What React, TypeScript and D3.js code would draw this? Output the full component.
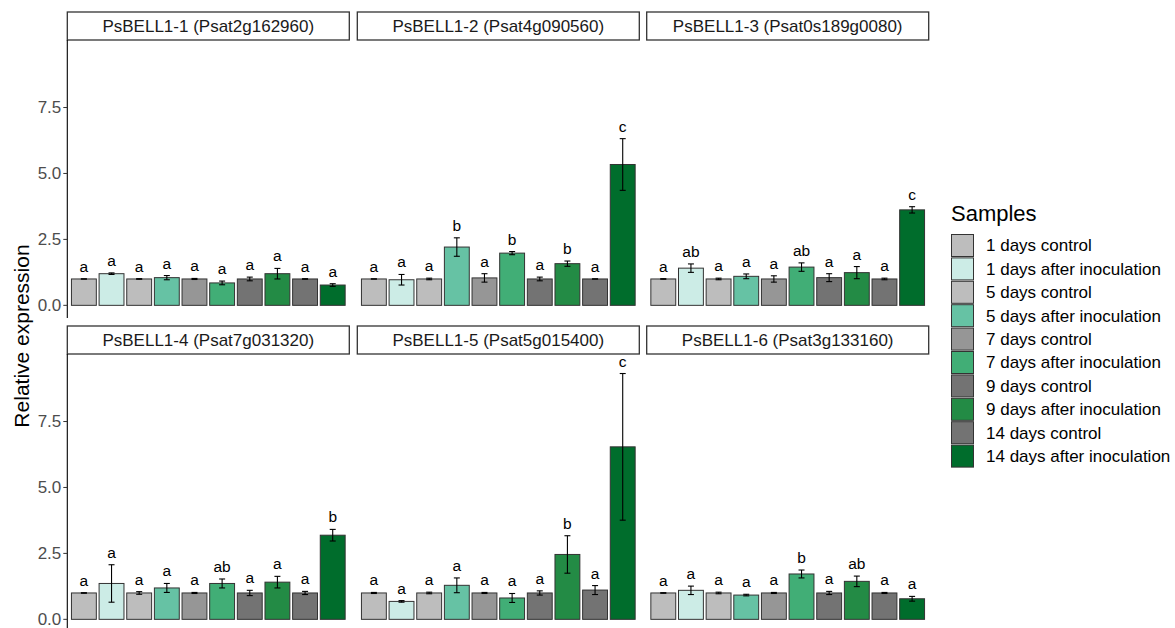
import React from 'react'
import * as d3 from 'd3'

const samples = [
  '1 days control', '1 days after inoculation',
  '5 days control', '5 days after inoculation',
  '7 days control', '7 days after inoculation',
  '9 days control', '9 days after inoculation',
  '14 days control', '14 days after inoculation'
]
const fills = ['#BDBDBD', '#CCECE6', '#BDBDBD', '#66C2A4', '#969696', '#41AE76', '#737373', '#238B45', '#737373', '#006D2C']

const genes = [
  'PsBELL1-1 (Psat2g162960)', 'PsBELL1-2 (Psat4g090560)', 'PsBELL1-3 (Psat0s189g0080)',
  'PsBELL1-4 (Psat7g031320)', 'PsBELL1-5 (Psat5g015400)', 'PsBELL1-6 (Psat3g133160)'
]

const means = [
  [1.0, 1.2, 1.0, 1.05, 1.0, 0.85, 1.0, 1.2, 1.0, 0.77],
  [1.0, 0.97, 1.0, 2.21, 1.04, 1.98, 1.0, 1.58, 1.0, 5.34],
  [1.0, 1.41, 1.0, 1.1, 1.0, 1.45, 1.05, 1.24, 1.0, 3.62],
  [1.0, 1.36, 1.0, 1.19, 1.0, 1.36, 1.0, 1.41, 1.0, 3.19],
  [1.0, 0.68, 1.0, 1.29, 1.0, 0.81, 1.0, 2.46, 1.11, 6.54],
  [1.0, 1.1, 1.0, 0.92, 1.0, 1.72, 1.0, 1.44, 1.0, 0.78]
]
const errs = [
  [0.0, 0.03, 0.01, 0.08, 0.02, 0.07, 0.07, 0.2, 0.01, 0.05],
  [0.0, 0.2, 0.03, 0.35, 0.16, 0.06, 0.07, 0.1, 0.0, 0.98],
  [0.01, 0.16, 0.03, 0.09, 0.12, 0.16, 0.15, 0.23, 0.03, 0.12],
  [0.01, 0.71, 0.05, 0.17, 0.02, 0.17, 0.1, 0.22, 0.06, 0.22],
  [0.02, 0.03, 0.03, 0.28, 0.02, 0.17, 0.08, 0.71, 0.17, 2.78],
  [0.01, 0.16, 0.03, 0.03, 0.02, 0.15, 0.06, 0.2, 0.02, 0.09]
]
const letters = [
  ['a', 'a', 'a', 'a', 'a', 'a', 'a', 'a', 'a', 'a'],
  ['a', 'a', 'a', 'b', 'a', 'b', 'a', 'b', 'a', 'c'],
  ['a', 'ab', 'a', 'a', 'a', 'ab', 'a', 'a', 'a', 'c'],
  ['a', 'a', 'a', 'a', 'a', 'ab', 'a', 'a', 'a', 'b'],
  ['a', 'a', 'a', 'a', 'a', 'a', 'a', 'b', 'a', 'c'],
  ['a', 'a', 'a', 'a', 'a', 'b', 'a', 'ab', 'a', 'a']
]
const yTicks = [0, 2.5, 5, 7.5]

const font = '"Liberation Sans", Arial, sans-serif'
const panelW = 282
const panelH = 278
const panelX = [67.3, 357.3, 646.7]
const panelY = [40, 354]
const stripH = 28

export default function App() {
  const x = d3.scaleBand<string>().domain(samples).range([0, panelW]).paddingInner(0.1).paddingOuter(0.15)
  const y = d3.scaleLinear().domain([-0.48, 10.06]).range([panelH, 0])
  const bw = x.bandwidth()

  return (
    <svg width={1175} height={628} style={{ position: 'absolute', left: 0, top: 0, background: '#fff' }} fontFamily={font}>
      {genes.map((g, gi) => {
        const px = panelX[gi % 3]
        const py = panelY[Math.floor(gi / 3)]
        return (
          <g key={g} transform={`translate(${px},${py})`}>
            <rect x={0} y={-stripH} width={panelW} height={stripH} fill="#fff" stroke="#333" strokeWidth={1.3} />
            <text x={panelW / 2} y={-stripH / 2} dy="0.35em" textAnchor="middle" fontSize={17} fill="#1A1A1A">{g}</text>
            {means[gi].map((m, i) => {
              const cx = x(samples[i])! + bw / 2
              const up = m + errs[gi][i]
              const lo = m - errs[gi][i]
              return (
                <g key={i}>
                  <rect x={x(samples[i])} y={y(m)} width={bw} height={y(0) - y(m)} fill={fills[i]} stroke="#333" strokeWidth={1} />
                  <line x1={cx} x2={cx} y1={y(lo)} y2={y(up)} stroke="#000" strokeWidth={1.1} />
                  <line x1={cx - 3} x2={cx + 3} y1={y(lo)} y2={y(lo)} stroke="#000" strokeWidth={1.1} />
                  <line x1={cx - 3} x2={cx + 3} y1={y(up)} y2={y(up)} stroke="#000" strokeWidth={1.1} />
                  <text x={cx} y={y(up) - 7} textAnchor="middle" fontSize={15.5} fill="#000">{letters[gi][i]}</text>
                </g>
              )
            })}
            {gi % 3 === 0 && (
              <g>
                <line x1={0} x2={0} y1={0} y2={panelH} stroke="#000" strokeWidth={1.1} />
                {yTicks.map(t => (
                  <g key={t} transform={`translate(0,${y(t)})`}>
                    <line x1={-4} x2={0} stroke="#333" strokeWidth={1} />
                    <text x={-6} dy="0.35em" textAnchor="end" fontSize={17} fill="#4D4D4D">{t.toFixed(1)}</text>
                  </g>
                ))}
              </g>
            )}
          </g>
        )
      })}
      <text transform="translate(29,336) rotate(-90)" textAnchor="middle" fontSize={21} fill="#000">Relative expression</text>
      <g transform="translate(951,0)">
        <text x={0} y={221} fontSize={22} fill="#000">Samples</text>
        {samples.map((s, i) => (
          <g key={s} transform={`translate(0,${234 + i * 23.4})`}>
            <rect x={0.5} y={0.5} width={22} height={22} fill={fills[i]} stroke="#333" strokeWidth={1} />
            <text x={35} y={11.5} dy="0.35em" fontSize={17} fill="#000">{s}</text>
          </g>
        ))}
      </g>
    </svg>
  )
}
